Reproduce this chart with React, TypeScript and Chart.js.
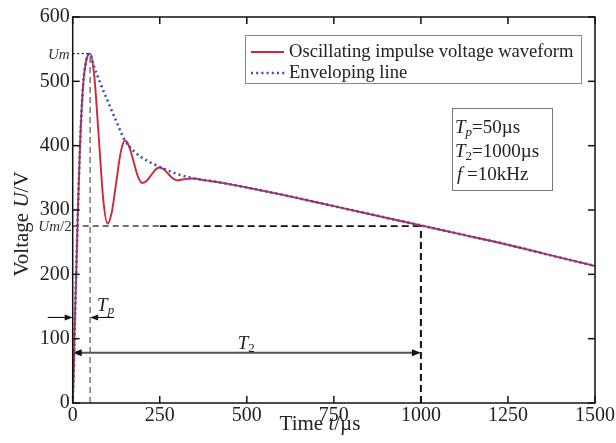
import { useEffect, useRef } from 'react';
import { Chart, registerables } from 'chart.js';

Chart.register(...registerables);

// ---------- data ----------
const WAVE_T = [0, 3, 5, 10, 15, 21, 30, 38, 44, 50, 62, 75, 88, 100, 112, 125, 138, 150, 162, 175, 188, 200, 212, 225, 238, 250, 262, 275, 288, 300, 320, 345, 380, 420, 500, 600, 750, 900, 1000, 1100, 1250, 1400, 1500];
const WAVE_V = [0, 50, 100, 200, 300, 400, 495, 530, 541, 543, 508, 412, 315, 279, 296, 343, 390, 408, 399, 375, 351, 342, 345, 354, 363, 366, 363, 356, 349, 346, 348, 349, 346, 343, 335, 324, 306, 288, 276, 264, 246, 226, 213];

const ENV_T = [0, 3, 5, 10, 15, 21, 30, 38, 44, 50, 60, 75, 100, 125, 150, 175, 200, 250, 300, 350, 400, 500, 600, 750, 900, 1000, 1100, 1250, 1400, 1500];
const ENV_V = [0, 50, 100, 200, 300, 400, 495, 530, 541, 543, 525, 503, 470, 438, 408, 392, 381, 367, 356, 349, 345, 335, 324, 306, 288, 276, 264, 246, 226, 213];

const X_TICKS = [0, 250, 500, 750, 1000, 1250, 1500];
const Y_TICKS = [0, 100, 200, 300, 400, 500, 600];

const SERIES_LABELS = ['Oscillating impulse voltage waveform', 'Enveloping line'];

const UM = 543;
const UM_HALF = 275;
const TP = 50;
const T2 = 1000;
const TP_ARROW_V = 133;
const T2_ARROW_V = 78;
const T2_LABEL_T = 500;
const T2_LABEL_V = 93;

const SERIF = '"Liberation Serif", "Times New Roman", serif';
const RED = '#d0253a';
const BLUE = '#3e50b8';

function font(size: number, italic = false) {
  return `${italic ? 'italic ' : ''}${size}px ${SERIF}`;
}

// draw a sequence of [text, size, italic, dy] pieces starting at x
function drawRich(ctx: CanvasRenderingContext2D, x: number, y: number, parts: [string, number, boolean, number][], align: 'left' | 'right' | 'center' = 'left') {
  let total = 0;
  for (const [t, s, it] of parts) {
    ctx.font = font(s, it);
    total += ctx.measureText(t).width;
  }
  let cx = align === 'left' ? x : align === 'right' ? x - total : x - total / 2;
  ctx.textAlign = 'left';
  for (const [t, s, it, dy] of parts) {
    ctx.font = font(s, it);
    ctx.fillText(t, cx, y + dy);
    cx += ctx.measureText(t).width;
  }
}

function seg(ctx: CanvasRenderingContext2D, x1: number, y1: number, x2: number, y2: number) {
  ctx.beginPath();
  ctx.moveTo(x1, y1);
  ctx.lineTo(x2, y2);
  ctx.stroke();
}

function head(ctx: CanvasRenderingContext2D, x: number, y: number, dir: number, len = 8, half = 3) {
  ctx.beginPath();
  ctx.moveTo(x, y);
  ctx.lineTo(x - dir * len, y - half);
  ctx.lineTo(x - dir * len, y + half);
  ctx.closePath();
  ctx.fill();
}

const decoPlugin = {
  id: 'deco',
  beforeDatasetsDraw(chart: any) {
    const { ctx, chartArea: a, scales } = chart;
    const px = (v: number) => scales.x.getPixelForValue(v);
    const py = (v: number) => scales.y.getPixelForValue(v);
    ctx.save();
    // Um dotted
    ctx.strokeStyle = '#222';
    ctx.lineWidth = 1.4;
    ctx.setLineDash([2, 2.5]);
    seg(ctx, a.left, py(UM), px(TP), py(UM));
    // Tp vertical dashed
    ctx.strokeStyle = '#555';
    ctx.lineWidth = 1.2;
    ctx.setLineDash([6, 4]);
    seg(ctx, px(TP), py(0), px(TP), py(UM));
    // Um/2 horizontal dashed
    ctx.strokeStyle = '#444';
    ctx.lineWidth = 1.5;
    seg(ctx, a.left, py(UM_HALF), px(250), py(UM_HALF));
    ctx.strokeStyle = '#111';
    ctx.lineWidth = 1.7;
    ctx.setLineDash([7, 4]);
    seg(ctx, px(250), py(UM_HALF), px(T2), py(UM_HALF));
    // T2 vertical dashed
    ctx.lineWidth = 2;
    ctx.setLineDash([7, 4]);
    seg(ctx, px(T2), py(0), px(T2), py(UM_HALF));
    ctx.setLineDash([]);
    // T2 double arrow
    const ya = py(T2_ARROW_V);
    ctx.strokeStyle = '#555';
    ctx.lineWidth = 2;
    seg(ctx, a.left + 4, ya, px(T2) - 4, ya);
    ctx.fillStyle = '#111';
    head(ctx, a.left, ya, -1, 9, 3.5);
    head(ctx, px(T2), ya, 1, 9, 3.5);
    // Tp arrows
    const yt = py(TP_ARROW_V);
    ctx.strokeStyle = '#111';
    ctx.lineWidth = 1.1;
    seg(ctx, a.left - 25, yt, a.left - 4, yt);
    head(ctx, a.left, yt, 1, 8, 3);
    seg(ctx, px(TP) + 24, yt, px(TP) + 4, yt);
    head(ctx, px(TP), yt, -1, 8, 3);
    // labels
    ctx.fillStyle = '#222';
    ctx.textBaseline = 'alphabetic';
    drawRich(ctx, px(TP) + 7, yt - 6, [['T', 19, true, 0], ['p', 13, true, 3]]);
    drawRich(ctx, px(T2_LABEL_T) - 9, py(T2_LABEL_V) + 6, [['T', 19, true, 0], ['2', 13, false, 3]]);
    ctx.fillStyle = '#333';
    drawRich(ctx, a.left - 3, py(UM) + 5, [['Um', 15, true, 0]], 'right');
    drawRich(ctx, a.left - 1, py(UM_HALF) + 5, [['Um', 15, true, 0], ['/2', 15, false, 0]], 'right');
    ctx.restore();
  },
  afterDraw(chart: any) {
    const { ctx, chartArea: a, scales } = chart;
    const px = (v: number) => scales.x.getPixelForValue(v);
    const py = (v: number) => scales.y.getPixelForValue(v);
    ctx.save();
    // frame
    ctx.strokeStyle = '#111';
    ctx.lineWidth = 1.5;
    ctx.strokeRect(a.left, a.top, a.right - a.left, a.bottom - a.top);
    // inward ticks on all sides
    const TL = 7;
    for (const v of X_TICKS) {
      const x = px(v);
      seg(ctx, x, a.bottom, x, a.bottom - TL);
      seg(ctx, x, a.top, x, a.top + TL);
    }
    for (const v of Y_TICKS) {
      const y = py(v);
      seg(ctx, a.left, y, a.left + TL, y);
      seg(ctx, a.right, y, a.right - TL, y);
    }
    // legend box
    const lx = 245, ly = 35, lw = 336, lh = 48;
    ctx.fillStyle = '#fff';
    ctx.fillRect(lx, ly, lw, lh);
    ctx.strokeStyle = '#888';
    ctx.lineWidth = 1;
    ctx.strokeRect(lx + 0.5, ly + 0.5, lw, lh);
    ctx.strokeStyle = RED;
    ctx.lineWidth = 2;
    seg(ctx, 251, 52, 284, 52);
    ctx.strokeStyle = BLUE;
    ctx.lineWidth = 2.6;
    ctx.setLineDash([2, 3.2]);
    seg(ctx, 251, 73, 285, 73);
    ctx.setLineDash([]);
    ctx.fillStyle = '#222';
    ctx.textBaseline = 'middle';
    ctx.font = font(18.6);
    ctx.textAlign = 'left';
    ctx.fillText(SERIES_LABELS[0], 289, 52);
    ctx.fillText(SERIES_LABELS[1], 289, 73);
    // parameter box
    ctx.strokeStyle = '#777';
    ctx.lineWidth = 1;
    ctx.strokeRect(452.5, 108.5, 100, 82);
    ctx.textBaseline = 'alphabetic';
    drawRich(ctx, 455, 133, [['T', 19, true, 0], ['p', 13, true, 3], ['=50µs', 19, false, 0]]);
    drawRich(ctx, 455, 157, [['T', 19, true, 0], ['2', 13, false, 3], ['=1000µs', 19, false, 0]]);
    drawRich(ctx, 457, 180, [['f', 19, true, 0], [' =10kHz', 19, false, 0]]);
    // axis titles
    ctx.fillStyle = '#222';
    drawRich(ctx, 320, 430, [['Time ', 21, false, 0], ['t', 21, true, 0], ['/µs', 21, false, 0]], 'center');
    ctx.translate(28, 224);
    ctx.rotate(-Math.PI / 2);
    drawRich(ctx, 0, 0, [['Voltage ', 21, false, 0], ['U', 21, true, 0], ['/V', 21, false, 0]], 'center');
    ctx.restore();
  },
};

export default function App() {
  const ref = useRef<HTMLCanvasElement | null>(null);
  useEffect(() => {
    if (!ref.current) return;
    const chart = new Chart(ref.current, {
      type: 'line',
      data: {
        datasets: [
          {
            label: SERIES_LABELS[0],
            data: WAVE_T.map((t, i) => ({ x: t, y: WAVE_V[i] })),
            borderColor: RED,
            borderWidth: 1.9,
            pointRadius: 0,
            cubicInterpolationMode: 'monotone',
            order: 2,
          },
          {
            label: SERIES_LABELS[1],
            data: ENV_T.map((t, i) => ({ x: t, y: ENV_V[i] })),
            borderColor: BLUE,
            borderWidth: 2.6,
            borderDash: [2, 3.2],
            pointRadius: 0,
            cubicInterpolationMode: 'monotone',
            order: 1,
          },
        ],
      },
      options: {
        animation: false,
        responsive: false,
        devicePixelRatio: 1,
        layout: { padding: { top: 17, right: 21, left: 0, bottom: 0 } },
        plugins: { legend: { display: false }, tooltip: { enabled: false } },
        scales: {
          x: {
            type: 'linear',
            min: 0,
            max: 1500,
            afterBuildTicks: (s: any) => {
              s.ticks = X_TICKS.map((v) => ({ value: v }));
            },
            afterFit: (s: any) => {
              s.height = 40;
            },
            grid: { display: false, drawTicks: false, tickLength: 0 },
            border: { display: false },
            ticks: {
              font: { family: SERIF, size: 20 },
              color: '#222',
              padding: 1,
              maxRotation: 0,
              autoSkip: false,
              callback: (v: any) => String(v),
            },
          },
          y: {
            type: 'linear',
            min: 0,
            max: 600,
            afterBuildTicks: (s: any) => {
              s.ticks = Y_TICKS.map((v) => ({ value: v }));
            },
            afterFit: (s: any) => {
              s.width = 72.7;
            },
            grid: { display: false, drawTicks: false, tickLength: 0 },
            border: { display: false },
            ticks: {
              font: { family: SERIF, size: 20 },
              color: '#222',
              padding: 3,
              autoSkip: false,
              callback: (v: any) => String(v),
            },
          },
        },
      },
      plugins: [decoPlugin],
    } as any);
    return () => chart.destroy();
  }, []);
  return (
    <div style={{ position: 'absolute', left: 0, top: 0, width: 616, height: 443, background: '#fff' }}>
      <canvas ref={ref} width={616} height={443} style={{ display: 'block' }} />
    </div>
  );
}
